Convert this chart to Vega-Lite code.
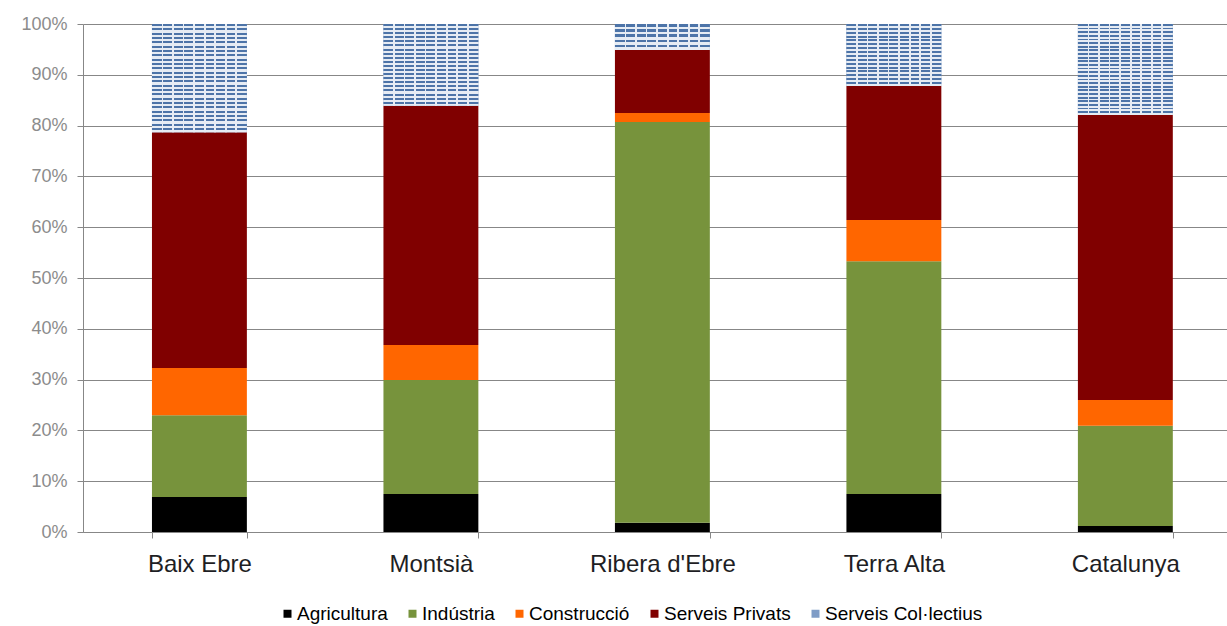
{
  "$schema": "https://vega.github.io/schema/vega-lite/v6.json",
  "width": 1144,
  "height": 508,
  "autosize": {"type": "none"},
  "padding": {"left": 83, "top": 24, "right": 0, "bottom": 94},
  "background": "white",
  "config": {
    "font": "Liberation Sans",
    "view": {"stroke": null}
  },
  "data": {
    "values": [
      {"region": "Baix Ebre", "sector": "Agricultura", "order": 1, "value": 6.9},
      {"region": "Baix Ebre", "sector": "Indústria", "order": 2, "value": 16.1},
      {"region": "Baix Ebre", "sector": "Construcció", "order": 3, "value": 9.3},
      {"region": "Baix Ebre", "sector": "Serveis Privats", "order": 4, "value": 46.4},
      {"region": "Baix Ebre", "sector": "Serveis Col·lectius", "order": 5, "value": 21.3},
      {"region": "Montsià", "sector": "Agricultura", "order": 1, "value": 7.5},
      {"region": "Montsià", "sector": "Indústria", "order": 2, "value": 22.4},
      {"region": "Montsià", "sector": "Construcció", "order": 3, "value": 6.9},
      {"region": "Montsià", "sector": "Serveis Privats", "order": 4, "value": 47.1},
      {"region": "Montsià", "sector": "Serveis Col·lectius", "order": 5, "value": 16.1},
      {"region": "Ribera d'Ebre", "sector": "Agricultura", "order": 1, "value": 1.8},
      {"region": "Ribera d'Ebre", "sector": "Indústria", "order": 2, "value": 78.9},
      {"region": "Ribera d'Ebre", "sector": "Construcció", "order": 3, "value": 1.8},
      {"region": "Ribera d'Ebre", "sector": "Serveis Privats", "order": 4, "value": 12.4},
      {"region": "Ribera d'Ebre", "sector": "Serveis Col·lectius", "order": 5, "value": 5.1},
      {"region": "Terra Alta", "sector": "Agricultura", "order": 1, "value": 7.5},
      {"region": "Terra Alta", "sector": "Indústria", "order": 2, "value": 45.8},
      {"region": "Terra Alta", "sector": "Construcció", "order": 3, "value": 8.1},
      {"region": "Terra Alta", "sector": "Serveis Privats", "order": 4, "value": 26.4},
      {"region": "Terra Alta", "sector": "Serveis Col·lectius", "order": 5, "value": 12.2},
      {"region": "Catalunya", "sector": "Agricultura", "order": 1, "value": 1.2},
      {"region": "Catalunya", "sector": "Indústria", "order": 2, "value": 19.7},
      {"region": "Catalunya", "sector": "Construcció", "order": 3, "value": 5.1},
      {"region": "Catalunya", "sector": "Serveis Privats", "order": 4, "value": 56.1},
      {"region": "Catalunya", "sector": "Serveis Col·lectius", "order": 5, "value": 17.9}
    ]
  },
  "transform": [
    {"stack": "value", "groupby": ["region"], "sort": [{"field": "order", "order": "ascending"}], "as": ["v0", "v1"]}
  ],
  "encoding": {
    "x": {
      "field": "region",
      "type": "nominal",
      "sort": ["Baix Ebre", "Montsià", "Ribera d'Ebre", "Terra Alta", "Catalunya"],
      "scale": {"paddingInner": 0.59, "paddingOuter": 0.266, "align": 0.56},
      "axis": {
        "title": null,
        "labelAngle": 0,
        "labelFontSize": 24,
        "labelColor": "#1E1E24",
        "labelPadding": 14,
        "domainColor": "#878787",
        "tickColor": "#878787",
        "tickSize": 6,
        "tickBand": "extent",
        "grid": false
      }
    },
    "y": {
      "field": "v1",
      "type": "quantitative",
      "scale": {"domain": [0, 100], "nice": false},
      "axis": {
        "title": null,
        "values": [0, 10, 20, 30, 40, 50, 60, 70, 80, 90, 100],
        "labelExpr": "datum.value + '%'",
        "labelFontSize": 18,
        "labelColor": "#8C8C8C",
        "labelPadding": 10,
        "tickSize": 6,
        "tickColor": "#878787",
        "domainColor": "#878787",
        "grid": true,
        "gridColor": "#878787",
        "gridWidth": 1
      }
    },
    "y2": {"field": "v0"}
  },
  "layer": [
    {
      "mark": {"type": "bar"},
      "encoding": {
        "color": {
          "field": "sector",
          "type": "nominal",
          "scale": {
            "domain": ["Agricultura", "Indústria", "Construcció", "Serveis Privats", "Serveis Col·lectius"],
            "range": ["#000000", "#77933C", "#FF6600", "#800000", "#7F9CC6"]
          },
          "legend": {
            "title": null,
            "orient": "none",
            "direction": "horizontal",
            "legendX": 195,
            "legendY": 580,
            "padding": 0,
            "symbolType": "square",
            "symbolSize": 64,
            "symbolStrokeWidth": 0,
            "labelFontSize": 19,
            "labelColor": "#000000",
            "labelOffset": 0,
            "columnPadding": 15,
            "labelLimit": 300
          }
        }
      }
    },
    {
      "transform": [{"filter": "datum.sector === 'Serveis Col·lectius' && (datum.region === 'Baix Ebre' || datum.region === 'Catalunya')"}],
      "mark": {
        "type": "bar",
        "fill": {
          "gradient": "linear", "x1": 0, "y1": 0, "x2": 0, "y2": 1,
          "stops": [
            {"offset": 0, "color": "#4D74A8"}, {"offset": 0.02, "color": "#4D74A8"}, {"offset": 0.02, "color": "#E6ECF4"}, {"offset": 0.04, "color": "#E6ECF4"},
            {"offset": 0.04, "color": "#4D74A8"}, {"offset": 0.06, "color": "#4D74A8"}, {"offset": 0.06, "color": "#E6ECF4"}, {"offset": 0.08, "color": "#E6ECF4"},
            {"offset": 0.08, "color": "#4D74A8"}, {"offset": 0.10, "color": "#4D74A8"}, {"offset": 0.10, "color": "#E6ECF4"}, {"offset": 0.12, "color": "#E6ECF4"},
            {"offset": 0.12, "color": "#4D74A8"}, {"offset": 0.14, "color": "#4D74A8"}, {"offset": 0.14, "color": "#E6ECF4"}, {"offset": 0.16, "color": "#E6ECF4"},
            {"offset": 0.16, "color": "#4D74A8"}, {"offset": 0.18, "color": "#4D74A8"}, {"offset": 0.18, "color": "#E6ECF4"}, {"offset": 0.20, "color": "#E6ECF4"},
            {"offset": 0.20, "color": "#4D74A8"}, {"offset": 0.22, "color": "#4D74A8"}, {"offset": 0.22, "color": "#E6ECF4"}, {"offset": 0.24, "color": "#E6ECF4"},
            {"offset": 0.24, "color": "#4D74A8"}, {"offset": 0.26, "color": "#4D74A8"}, {"offset": 0.26, "color": "#E6ECF4"}, {"offset": 0.28, "color": "#E6ECF4"},
            {"offset": 0.28, "color": "#4D74A8"}, {"offset": 0.30, "color": "#4D74A8"}, {"offset": 0.30, "color": "#E6ECF4"}, {"offset": 0.32, "color": "#E6ECF4"},
            {"offset": 0.32, "color": "#4D74A8"}, {"offset": 0.34, "color": "#4D74A8"}, {"offset": 0.34, "color": "#E6ECF4"}, {"offset": 0.36, "color": "#E6ECF4"},
            {"offset": 0.36, "color": "#4D74A8"}, {"offset": 0.38, "color": "#4D74A8"}, {"offset": 0.38, "color": "#E6ECF4"}, {"offset": 0.40, "color": "#E6ECF4"},
            {"offset": 0.40, "color": "#4D74A8"}, {"offset": 0.42, "color": "#4D74A8"}, {"offset": 0.42, "color": "#E6ECF4"}, {"offset": 0.44, "color": "#E6ECF4"},
            {"offset": 0.44, "color": "#4D74A8"}, {"offset": 0.46, "color": "#4D74A8"}, {"offset": 0.46, "color": "#E6ECF4"}, {"offset": 0.48, "color": "#E6ECF4"},
            {"offset": 0.48, "color": "#4D74A8"}, {"offset": 0.50, "color": "#4D74A8"}, {"offset": 0.50, "color": "#E6ECF4"}, {"offset": 0.52, "color": "#E6ECF4"},
            {"offset": 0.52, "color": "#4D74A8"}, {"offset": 0.54, "color": "#4D74A8"}, {"offset": 0.54, "color": "#E6ECF4"}, {"offset": 0.56, "color": "#E6ECF4"},
            {"offset": 0.56, "color": "#4D74A8"}, {"offset": 0.58, "color": "#4D74A8"}, {"offset": 0.58, "color": "#E6ECF4"}, {"offset": 0.60, "color": "#E6ECF4"},
            {"offset": 0.60, "color": "#4D74A8"}, {"offset": 0.62, "color": "#4D74A8"}, {"offset": 0.62, "color": "#E6ECF4"}, {"offset": 0.64, "color": "#E6ECF4"},
            {"offset": 0.64, "color": "#4D74A8"}, {"offset": 0.66, "color": "#4D74A8"}, {"offset": 0.66, "color": "#E6ECF4"}, {"offset": 0.68, "color": "#E6ECF4"},
            {"offset": 0.68, "color": "#4D74A8"}, {"offset": 0.70, "color": "#4D74A8"}, {"offset": 0.70, "color": "#E6ECF4"}, {"offset": 0.72, "color": "#E6ECF4"},
            {"offset": 0.72, "color": "#4D74A8"}, {"offset": 0.74, "color": "#4D74A8"}, {"offset": 0.74, "color": "#E6ECF4"}, {"offset": 0.76, "color": "#E6ECF4"},
            {"offset": 0.76, "color": "#4D74A8"}, {"offset": 0.78, "color": "#4D74A8"}, {"offset": 0.78, "color": "#E6ECF4"}, {"offset": 0.80, "color": "#E6ECF4"},
            {"offset": 0.80, "color": "#4D74A8"}, {"offset": 0.82, "color": "#4D74A8"}, {"offset": 0.82, "color": "#E6ECF4"}, {"offset": 0.84, "color": "#E6ECF4"},
            {"offset": 0.84, "color": "#4D74A8"}, {"offset": 0.86, "color": "#4D74A8"}, {"offset": 0.86, "color": "#E6ECF4"}, {"offset": 0.88, "color": "#E6ECF4"},
            {"offset": 0.88, "color": "#4D74A8"}, {"offset": 0.90, "color": "#4D74A8"}, {"offset": 0.90, "color": "#E6ECF4"}, {"offset": 0.92, "color": "#E6ECF4"},
            {"offset": 0.92, "color": "#4D74A8"}, {"offset": 0.94, "color": "#4D74A8"}, {"offset": 0.94, "color": "#E6ECF4"}, {"offset": 0.96, "color": "#E6ECF4"},
            {"offset": 0.96, "color": "#4D74A8"}, {"offset": 0.98, "color": "#4D74A8"}, {"offset": 0.98, "color": "#E6ECF4"}, {"offset": 1, "color": "#E6ECF4"}
          ]
        }
      }
    },
    {
      "transform": [{"filter": "datum.sector === 'Serveis Col·lectius' && datum.region === 'Montsià'"}],
      "mark": {
        "type": "bar",
        "fill": {
          "gradient": "linear", "x1": 0, "y1": 0, "x2": 0, "y2": 1,
          "stops": [
            {"offset": 0, "color": "#4D74A8"}, {"offset": 0.025, "color": "#4D74A8"}, {"offset": 0.025, "color": "#E6ECF4"}, {"offset": 0.05, "color": "#E6ECF4"},
            {"offset": 0.05, "color": "#4D74A8"}, {"offset": 0.075, "color": "#4D74A8"}, {"offset": 0.075, "color": "#E6ECF4"}, {"offset": 0.1, "color": "#E6ECF4"},
            {"offset": 0.1, "color": "#4D74A8"}, {"offset": 0.125, "color": "#4D74A8"}, {"offset": 0.125, "color": "#E6ECF4"}, {"offset": 0.15, "color": "#E6ECF4"},
            {"offset": 0.15, "color": "#4D74A8"}, {"offset": 0.175, "color": "#4D74A8"}, {"offset": 0.175, "color": "#E6ECF4"}, {"offset": 0.2, "color": "#E6ECF4"},
            {"offset": 0.2, "color": "#4D74A8"}, {"offset": 0.225, "color": "#4D74A8"}, {"offset": 0.225, "color": "#E6ECF4"}, {"offset": 0.25, "color": "#E6ECF4"},
            {"offset": 0.25, "color": "#4D74A8"}, {"offset": 0.275, "color": "#4D74A8"}, {"offset": 0.275, "color": "#E6ECF4"}, {"offset": 0.3, "color": "#E6ECF4"},
            {"offset": 0.3, "color": "#4D74A8"}, {"offset": 0.325, "color": "#4D74A8"}, {"offset": 0.325, "color": "#E6ECF4"}, {"offset": 0.35, "color": "#E6ECF4"},
            {"offset": 0.35, "color": "#4D74A8"}, {"offset": 0.375, "color": "#4D74A8"}, {"offset": 0.375, "color": "#E6ECF4"}, {"offset": 0.4, "color": "#E6ECF4"},
            {"offset": 0.4, "color": "#4D74A8"}, {"offset": 0.425, "color": "#4D74A8"}, {"offset": 0.425, "color": "#E6ECF4"}, {"offset": 0.45, "color": "#E6ECF4"},
            {"offset": 0.45, "color": "#4D74A8"}, {"offset": 0.475, "color": "#4D74A8"}, {"offset": 0.475, "color": "#E6ECF4"}, {"offset": 0.5, "color": "#E6ECF4"},
            {"offset": 0.5, "color": "#4D74A8"}, {"offset": 0.525, "color": "#4D74A8"}, {"offset": 0.525, "color": "#E6ECF4"}, {"offset": 0.55, "color": "#E6ECF4"},
            {"offset": 0.55, "color": "#4D74A8"}, {"offset": 0.575, "color": "#4D74A8"}, {"offset": 0.575, "color": "#E6ECF4"}, {"offset": 0.6, "color": "#E6ECF4"},
            {"offset": 0.6, "color": "#4D74A8"}, {"offset": 0.625, "color": "#4D74A8"}, {"offset": 0.625, "color": "#E6ECF4"}, {"offset": 0.65, "color": "#E6ECF4"},
            {"offset": 0.65, "color": "#4D74A8"}, {"offset": 0.675, "color": "#4D74A8"}, {"offset": 0.675, "color": "#E6ECF4"}, {"offset": 0.7, "color": "#E6ECF4"},
            {"offset": 0.7, "color": "#4D74A8"}, {"offset": 0.725, "color": "#4D74A8"}, {"offset": 0.725, "color": "#E6ECF4"}, {"offset": 0.75, "color": "#E6ECF4"},
            {"offset": 0.75, "color": "#4D74A8"}, {"offset": 0.775, "color": "#4D74A8"}, {"offset": 0.775, "color": "#E6ECF4"}, {"offset": 0.8, "color": "#E6ECF4"},
            {"offset": 0.8, "color": "#4D74A8"}, {"offset": 0.825, "color": "#4D74A8"}, {"offset": 0.825, "color": "#E6ECF4"}, {"offset": 0.85, "color": "#E6ECF4"},
            {"offset": 0.85, "color": "#4D74A8"}, {"offset": 0.875, "color": "#4D74A8"}, {"offset": 0.875, "color": "#E6ECF4"}, {"offset": 0.9, "color": "#E6ECF4"},
            {"offset": 0.9, "color": "#4D74A8"}, {"offset": 0.925, "color": "#4D74A8"}, {"offset": 0.925, "color": "#E6ECF4"}, {"offset": 0.95, "color": "#E6ECF4"},
            {"offset": 0.95, "color": "#4D74A8"}, {"offset": 0.975, "color": "#4D74A8"}, {"offset": 0.975, "color": "#E6ECF4"}, {"offset": 1, "color": "#E6ECF4"}
          ]
        }
      }
    },
    {
      "transform": [{"filter": "datum.sector === 'Serveis Col·lectius' && datum.region === 'Ribera d\\'Ebre'"}],
      "mark": {
        "type": "bar",
        "fill": {
          "gradient": "linear", "x1": 0, "y1": 0, "x2": 0, "y2": 1,
          "stops": [
            {"offset": 0, "color": "#4D74A8"}, {"offset": 0.1, "color": "#4D74A8"}, {"offset": 0.1, "color": "#E6ECF4"}, {"offset": 0.2, "color": "#E6ECF4"},
            {"offset": 0.2, "color": "#4D74A8"}, {"offset": 0.3, "color": "#4D74A8"}, {"offset": 0.3, "color": "#E6ECF4"}, {"offset": 0.4, "color": "#E6ECF4"},
            {"offset": 0.4, "color": "#4D74A8"}, {"offset": 0.5, "color": "#4D74A8"}, {"offset": 0.5, "color": "#E6ECF4"}, {"offset": 0.6, "color": "#E6ECF4"},
            {"offset": 0.6, "color": "#4D74A8"}, {"offset": 0.7, "color": "#4D74A8"}, {"offset": 0.7, "color": "#E6ECF4"}, {"offset": 0.8, "color": "#E6ECF4"},
            {"offset": 0.8, "color": "#4D74A8"}, {"offset": 0.9, "color": "#4D74A8"}, {"offset": 0.9, "color": "#E6ECF4"}, {"offset": 1, "color": "#E6ECF4"}
          ]
        }
      }
    },
    {
      "transform": [{"filter": "datum.sector === 'Serveis Col·lectius' && datum.region === 'Terra Alta'"}],
      "mark": {
        "type": "bar",
        "fill": {
          "gradient": "linear", "x1": 0, "y1": 0, "x2": 0, "y2": 1,
          "stops": [
            {"offset": 0, "color": "#4D74A8"}, {"offset": 0.03125, "color": "#4D74A8"}, {"offset": 0.03125, "color": "#E6ECF4"}, {"offset": 0.0625, "color": "#E6ECF4"},
            {"offset": 0.0625, "color": "#4D74A8"}, {"offset": 0.09375, "color": "#4D74A8"}, {"offset": 0.09375, "color": "#E6ECF4"}, {"offset": 0.125, "color": "#E6ECF4"},
            {"offset": 0.125, "color": "#4D74A8"}, {"offset": 0.15625, "color": "#4D74A8"}, {"offset": 0.15625, "color": "#E6ECF4"}, {"offset": 0.1875, "color": "#E6ECF4"},
            {"offset": 0.1875, "color": "#4D74A8"}, {"offset": 0.21875, "color": "#4D74A8"}, {"offset": 0.21875, "color": "#E6ECF4"}, {"offset": 0.25, "color": "#E6ECF4"},
            {"offset": 0.25, "color": "#4D74A8"}, {"offset": 0.28125, "color": "#4D74A8"}, {"offset": 0.28125, "color": "#E6ECF4"}, {"offset": 0.3125, "color": "#E6ECF4"},
            {"offset": 0.3125, "color": "#4D74A8"}, {"offset": 0.34375, "color": "#4D74A8"}, {"offset": 0.34375, "color": "#E6ECF4"}, {"offset": 0.375, "color": "#E6ECF4"},
            {"offset": 0.375, "color": "#4D74A8"}, {"offset": 0.40625, "color": "#4D74A8"}, {"offset": 0.40625, "color": "#E6ECF4"}, {"offset": 0.4375, "color": "#E6ECF4"},
            {"offset": 0.4375, "color": "#4D74A8"}, {"offset": 0.46875, "color": "#4D74A8"}, {"offset": 0.46875, "color": "#E6ECF4"}, {"offset": 0.5, "color": "#E6ECF4"},
            {"offset": 0.5, "color": "#4D74A8"}, {"offset": 0.53125, "color": "#4D74A8"}, {"offset": 0.53125, "color": "#E6ECF4"}, {"offset": 0.5625, "color": "#E6ECF4"},
            {"offset": 0.5625, "color": "#4D74A8"}, {"offset": 0.59375, "color": "#4D74A8"}, {"offset": 0.59375, "color": "#E6ECF4"}, {"offset": 0.625, "color": "#E6ECF4"},
            {"offset": 0.625, "color": "#4D74A8"}, {"offset": 0.65625, "color": "#4D74A8"}, {"offset": 0.65625, "color": "#E6ECF4"}, {"offset": 0.6875, "color": "#E6ECF4"},
            {"offset": 0.6875, "color": "#4D74A8"}, {"offset": 0.71875, "color": "#4D74A8"}, {"offset": 0.71875, "color": "#E6ECF4"}, {"offset": 0.75, "color": "#E6ECF4"},
            {"offset": 0.75, "color": "#4D74A8"}, {"offset": 0.78125, "color": "#4D74A8"}, {"offset": 0.78125, "color": "#E6ECF4"}, {"offset": 0.8125, "color": "#E6ECF4"},
            {"offset": 0.8125, "color": "#4D74A8"}, {"offset": 0.84375, "color": "#4D74A8"}, {"offset": 0.84375, "color": "#E6ECF4"}, {"offset": 0.875, "color": "#E6ECF4"},
            {"offset": 0.875, "color": "#4D74A8"}, {"offset": 0.90625, "color": "#4D74A8"}, {"offset": 0.90625, "color": "#E6ECF4"}, {"offset": 0.9375, "color": "#E6ECF4"},
            {"offset": 0.9375, "color": "#4D74A8"}, {"offset": 0.96875, "color": "#4D74A8"}, {"offset": 0.96875, "color": "#E6ECF4"}, {"offset": 1, "color": "#E6ECF4"}
          ]
        }
      }
    },
    {
      "transform": [{"filter": "datum.sector === 'Serveis Col·lectius'"}],
      "mark": {
        "type": "bar",
        "fill": {
          "gradient": "linear", "x1": 0, "y1": 0, "x2": 1, "y2": 0,
          "stops": [
            {"offset": 0, "color": "rgba(230,236,244,0)"}, {"offset": 0.102, "color": "rgba(230,236,244,0)"}, {"offset": 0.102, "color": "#E6ECF4"}, {"offset": 0.120, "color": "#E6ECF4"},
            {"offset": 0.120, "color": "rgba(230,236,244,0)"}, {"offset": 0.213, "color": "rgba(230,236,244,0)"}, {"offset": 0.213, "color": "#E6ECF4"}, {"offset": 0.231, "color": "#E6ECF4"},
            {"offset": 0.231, "color": "rgba(230,236,244,0)"}, {"offset": 0.324, "color": "rgba(230,236,244,0)"}, {"offset": 0.324, "color": "#E6ECF4"}, {"offset": 0.342, "color": "#E6ECF4"},
            {"offset": 0.342, "color": "rgba(230,236,244,0)"}, {"offset": 0.435, "color": "rgba(230,236,244,0)"}, {"offset": 0.435, "color": "#E6ECF4"}, {"offset": 0.453, "color": "#E6ECF4"},
            {"offset": 0.453, "color": "rgba(230,236,244,0)"}, {"offset": 0.547, "color": "rgba(230,236,244,0)"}, {"offset": 0.547, "color": "#E6ECF4"}, {"offset": 0.565, "color": "#E6ECF4"},
            {"offset": 0.565, "color": "rgba(230,236,244,0)"}, {"offset": 0.658, "color": "rgba(230,236,244,0)"}, {"offset": 0.658, "color": "#E6ECF4"}, {"offset": 0.676, "color": "#E6ECF4"},
            {"offset": 0.676, "color": "rgba(230,236,244,0)"}, {"offset": 0.769, "color": "rgba(230,236,244,0)"}, {"offset": 0.769, "color": "#E6ECF4"}, {"offset": 0.787, "color": "#E6ECF4"},
            {"offset": 0.787, "color": "rgba(230,236,244,0)"}, {"offset": 0.880, "color": "rgba(230,236,244,0)"}, {"offset": 0.880, "color": "#E6ECF4"}, {"offset": 0.898, "color": "#E6ECF4"},
            {"offset": 0.898, "color": "rgba(230,236,244,0)"}, {"offset": 1, "color": "rgba(230,236,244,0)"}
          ]
        }
      }
    }
  ]
}
